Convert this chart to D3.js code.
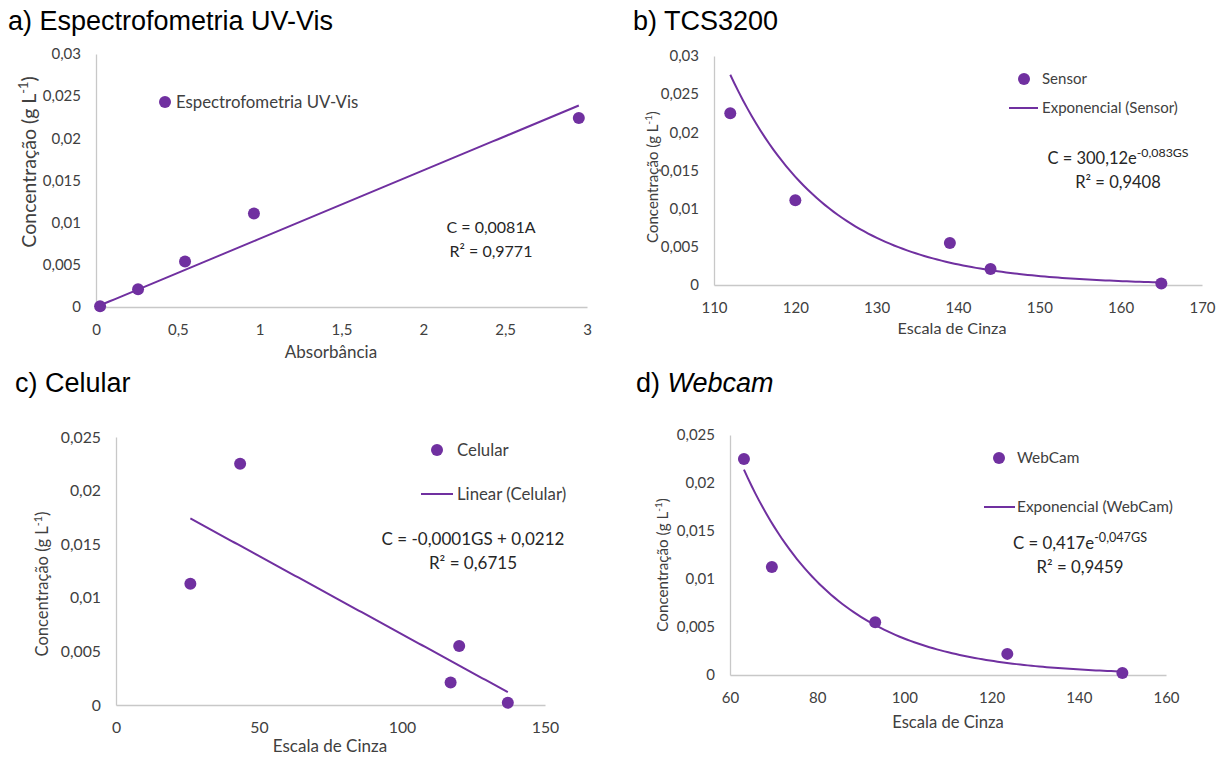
<!DOCTYPE html>
<html>
<head>
<meta charset="utf-8">
<script src="https://cdn.jsdelivr.net/npm/d3@7"></script>
<style>
  html, body { margin: 0; padding: 0; background: #fff; }
  svg { display: block; }
  .tick text { font-family: Lato, "Open Sans", sans-serif; fill: #404040; }
  .title { font-family: "Liberation Sans", Arial, sans-serif; font-size: 27px; fill: #000; }
  .lbl { font-family: Lato, "Open Sans", sans-serif; fill: #404040; }
  .eq { font-family: Lato, "Open Sans", sans-serif; fill: #262626; }
</style>
</head>
<body>
<svg id="chart" width="1216" height="757"></svg>
<script>
// ---- data ----
// a) UV-Vis spectrophotometry
const uvAbsorbance = [0.025, 0.257, 0.544, 0.965, 2.95];
const uvConc       = [0.0001, 0.0021, 0.0054, 0.0111, 0.0224];
const uvSlope = 0.0081;                       // C = 0,0081A

// b) TCS3200 sensor
const sensorGray = [112, 120, 139, 144, 165];
const sensorConc = [0.0225, 0.0111, 0.0055, 0.0021, 0.0002];
const sensorExp  = [300.12, -0.083];          // C = 300,12e^(-0,083GS)

// c) mobile phone
const phoneGray = [26, 43.4, 120, 117, 137];
const phoneConc = [0.0113, 0.0225, 0.0055, 0.0021, 0.0002];
const phoneLin  = [-0.000146, 0.0212];        // slope, intercept (unrounded)

// d) webcam
const webcamGray = [63.2, 69.6, 93.3, 123.6, 150];
const webcamConc = [0.0225, 0.01125, 0.0055, 0.0022, 0.0002];
const webcamExp  = [0.417, -0.047];           // C = 0,417e^(-0,047GS)

// tick values
const yTicks03  = [0, 0.005, 0.01, 0.015, 0.02, 0.025, 0.03];
const yTicks025 = [0, 0.005, 0.01, 0.015, 0.02, 0.025];
const xTicksA = [0, 0.5, 1, 1.5, 2, 2.5, 3];
const xTicksB = [110, 120, 130, 140, 150, 160, 170];
const xTicksC = [0, 50, 100, 150];
const xTicksD = [60, 80, 100, 120, 140, 160];

const PURPLE = "#7030A0";
const AXIS = "#C8C8C8";
const svg = d3.select("#chart");
const fmt = v => String(v).replace(".", ",");

function panel(cfg) {
  const fs = cfg.fonts;
  const g = svg.append("g");
  const x = d3.scaleLinear().domain(cfg.xDomain).range(cfg.xRange);
  const y = d3.scaleLinear().domain(cfg.yDomain).range(cfg.yRange);

  // axes
  const ax = d3.axisBottom(x).tickValues(cfg.xTicks).tickSize(0).tickPadding(17).tickFormat(fmt);
  const gx = g.append("g").attr("transform", `translate(0,${cfg.yRange[0]})`).call(ax);
  gx.select(".domain").attr("stroke", AXIS).attr("stroke-width", 1.3);
  const ay = d3.axisLeft(y).tickValues(cfg.yTicks).tickSize(0).tickPadding(15).tickFormat(fmt);
  const gy = g.append("g").attr("transform", `translate(${cfg.xRange[0]},0)`).call(ay);
  gy.select(".domain").attr("stroke", AXIS).attr("stroke-width", 1.3);
  g.selectAll(".tick text").attr("font-size", fs.tick + "px");

  // axis titles
  g.append("text").attr("class", "lbl").attr("text-anchor", "middle")
    .attr("font-size", fs.xTitle + "px")
    .attr("x", cfg.xTitlePos[0]).attr("y", cfg.xTitlePos[1]).attr("dy", "0.35em")
    .text(cfg.xTitle);
  const yt = g.append("text").attr("class", "lbl").attr("text-anchor", "middle")
    .attr("font-size", fs.yTitle + "px")
    .attr("transform", `translate(${cfg.yTitlePos[0]},${cfg.yTitlePos[1]}) rotate(-90)`)
    .attr("dy", "0.35em");
  yt.append("tspan").text("Concentração (g L");
  yt.append("tspan").attr("baseline-shift", "super").attr("font-size", (fs.yTitle * 0.65) + "px").text("-1");
  yt.append("tspan").text(")");

  // trendline
  if (cfg.fit) {
    const [x0, x1] = d3.extent(cfg.xs);
    const pts = d3.range(0, 101).map(i => {
      const xv = x0 + (x1 - x0) * i / 100;
      return [xv, cfg.fit(xv)];
    });
    g.append("path").attr("fill", "none").attr("stroke", PURPLE).attr("stroke-width", 2)
      .attr("d", d3.line().x(d => x(d[0])).y(d => y(d[1]))(pts));
  }

  // points
  g.selectAll("circle.pt").data(cfg.xs.map((v, i) => [v, cfg.ys[i]])).join("circle")
    .attr("class", "pt").attr("cx", d => x(d[0])).attr("cy", d => y(d[1]))
    .attr("r", 6).attr("fill", PURPLE);

  // title
  const t = g.append("text").attr("class", "title").attr("x", cfg.titlePos[0]).attr("y", cfg.titlePos[1]);
  t.append("tspan").text(cfg.titlePrefix);
  if (cfg.titleItalic) t.append("tspan").attr("font-style", "italic").text(cfg.titleItalic);

  // legend
  const lg = cfg.legend;
  g.append("circle").attr("cx", lg.marker[0]).attr("cy", lg.marker[1]).attr("r", 6).attr("fill", PURPLE);
  g.append("text").attr("class", "lbl").attr("font-size", fs.legend + "px")
    .attr("x", lg.textX).attr("y", lg.marker[1]).attr("dy", "0.35em")
    .text(lg.series);
  if (lg.line) {
    g.append("line").attr("x1", lg.line[0]).attr("x2", lg.line[1])
      .attr("y1", lg.line[2]).attr("y2", lg.line[2]).attr("stroke", PURPLE).attr("stroke-width", 2);
    g.append("text").attr("class", "lbl").attr("font-size", fs.legend + "px")
      .attr("x", lg.textX).attr("y", lg.line[2]).attr("dy", "0.35em")
      .text(lg.lineLabel);
  }

  // equation
  const eq = cfg.eq;
  const e1 = g.append("text").attr("class", "eq").attr("text-anchor", "middle")
    .attr("font-size", fs.eq + "px")
    .attr("x", eq.pos[0]).attr("y", eq.pos[1]).attr("dy", "0.35em");
  e1.append("tspan").text(eq.main);
  if (eq.sup) e1.append("tspan").attr("baseline-shift", "super")
    .attr("font-size", (fs.eq * 0.75) + "px").text(eq.sup);
  g.append("text").attr("class", "eq").attr("text-anchor", "middle")
    .attr("font-size", fs.eq + "px")
    .attr("x", eq.pos[0]).attr("y", eq.pos[1] + 24).attr("dy", "0.35em")
    .text(eq.r2);
}

panel({
  xs: uvAbsorbance, ys: uvConc,
  xDomain: [0, 3], xRange: [96, 587], yDomain: [0, 0.03], yRange: [307, 54],
  xTicks: xTicksA, yTicks: yTicks03,
  fit: v => uvSlope * v,
  fonts: { tick: 15, xTitle: 17, yTitle: 19.5, legend: 16.8, eq: 16 },
  xTitle: "Absorbância", xTitlePos: [331, 352], yTitlePos: [29, 162],
  titlePrefix: "a) Espectrofometria UV-Vis", titlePos: [8, 30],
  legend: { marker: [165, 102], textX: 176, series: "Espectrofometria UV-Vis" },
  eq: { pos: [491, 227], main: "C = 0,0081A", r2: "R² = 0,9771" }
});

panel({
  xs: sensorGray, ys: sensorConc,
  xDomain: [110, 170], xRange: [714, 1202], yDomain: [0, 0.03], yRange: [285, 56],
  xTicks: xTicksB, yTicks: yTicks03,
  fit: v => sensorExp[0] * Math.exp(sensorExp[1] * v),
  fonts: { tick: 15, xTitle: 16.2, yTitle: 15, legend: 15, eq: 16.5 },
  xTitle: "Escala de Cinza", xTitlePos: [952, 328], yTitlePos: [653, 177],
  titlePrefix: "b) TCS3200", titlePos: [633, 30],
  legend: { marker: [1024, 79], textX: 1042, series: "Sensor",
            line: [1009, 1038, 108], lineLabel: "Exponencial (Sensor)" },
  eq: { pos: [1118, 158], main: "C = 300,12e", sup: "-0,083GS", r2: "R² = 0,9408" }
});

panel({
  xs: phoneGray, ys: phoneConc,
  xDomain: [0, 150], xRange: [116, 545], yDomain: [0, 0.025], yRange: [705, 437],
  xTicks: xTicksC, yTicks: yTicks025,
  fit: v => phoneLin[0] * v + phoneLin[1],
  fonts: { tick: 15.8, xTitle: 17, yTitle: 16.5, legend: 16.8, eq: 17 },
  xTitle: "Escala de Cinza", xTitlePos: [330, 746], yTitlePos: [42, 584],
  titlePrefix: "c) Celular", titlePos: [15, 392],
  legend: { marker: [437, 450], textX: 457, series: "Celular",
            line: [421, 453, 494], lineLabel: "Linear (Celular)" },
  eq: { pos: [473, 539], main: "C = -0,0001GS + 0,0212", r2: "R² = 0,6715" }
});

panel({
  xs: webcamGray, ys: webcamConc,
  xDomain: [60, 160], xRange: [730, 1166], yDomain: [0, 0.025], yRange: [675, 435],
  xTicks: xTicksD, yTicks: yTicks025,
  fit: v => webcamExp[0] * Math.exp(webcamExp[1] * v),
  fonts: { tick: 15, xTitle: 16.6, yTitle: 15.2, legend: 15.4, eq: 16.8 },
  xTitle: "Escala de Cinza", xTitlePos: [948, 722], yTitlePos: [663, 565],
  titlePrefix: "d) ", titleItalic: "Webcam", titlePos: [636, 392],
  legend: { marker: [999, 458], textX: 1017, series: "WebCam",
            line: [984, 1015, 507], lineLabel: "Exponencial (WebCam)" },
  eq: { pos: [1080, 543], main: "C = 0,417e", sup: "-0,047GS", r2: "R² = 0,9459" }
});
</script>
</body>
</html>
